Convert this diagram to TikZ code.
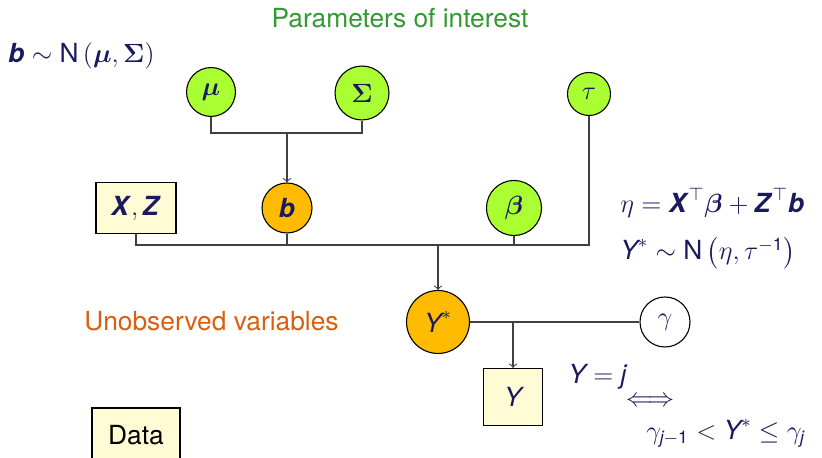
\documentclass[tikz,border=0pt]{standalone}
\usepackage{amsmath}
\usepackage{amssymb}
\usepackage{bm}
\usepackage{fontspec}
\setmainfont{TeX Gyre Heros}
\usepackage{tikz}
\usepackage{xcolor}

\definecolor{navy}{RGB}{26,26,94}
\definecolor{paramgreen}{RGB}{170,255,51}
\definecolor{latentorange}{RGB}{255,187,0}
\definecolor{datayellow}{RGB}{255,252,213}
\definecolor{titlegreen}{RGB}{51,153,51}
\definecolor{textorange}{RGB}{217,95,14}

\newcommand{\bvec}[1]{\textbf{\textit{#1}}}
\newcommand{\ivar}[1]{\textit{#1}}
\newcommand{\ystar}{\ivar{Y}^{*}}

\begin{document}
\begin{tikzpicture}[
        x=0.456pt, y=-0.456pt,
        font=\large,
        param/.style={circle, draw, line width=0.5pt, fill=paramgreen, inner sep=0pt, text=navy},
        latent/.style={circle, draw, line width=0.5pt, fill=latentorange, inner sep=0pt, text=navy},
        datum/.style={rectangle, draw, line width=0.5pt, fill=datayellow, inner sep=0pt, text=navy},
        link/.style={draw=black!75, line width=0.5pt},
        arrow/.style={link, ->, >=to}
    ]
        \useasboundingbox (0,0) rectangle (822,458);

        % Parameters of interest
        \node[param, minimum size=22.3pt] (mu) at (211,92) {$\bm{\mu}$};
        \node[param, minimum size=24.6pt] (Sigma) at (362,93) {$\bm{\Sigma}$};
        \node[param, minimum size=19.6pt] (tau) at (589,94) {$\tau$};
        \node[param, minimum size=25.1pt] (beta) at (514,208) {$\bm{\beta}$};

        % Unobserved variables
        \node[latent, minimum size=22.8pt] (b) at (287,208) {$\bvec{b}$};
        \node[latent, minimum size=28.7pt] (ystar) at (438,322) {$\ystar$};
        \node[circle, draw, line width=0.5pt, fill=white, inner sep=0pt, text=navy, minimum size=22.8pt] (gamma) at (665,322) {$\gamma$};

        % Data
        \node[datum, minimum width=36.5pt, minimum height=23.3pt] (xz) at (136,208) {$\bvec{X}, \bvec{Z}$};
        \node[datum, minimum width=26.9pt, minimum height=26pt] (y) at (513,397) {$\ivar{Y}$};
        \node[datum, text=black, minimum width=40.1pt, minimum height=24.6pt] (data) at (136,435) {Data};

        % Labels
        \node[anchor=base, text=titlegreen] (title) at (400,28) {Parameters of interest};
        \node[anchor=base west, text=navy, inner sep=0pt] (prior) at (8,63) {$\bvec{b} \sim \text{N}\left(\bm{\mu}, \bm{\Sigma}\right)$};
        \node[anchor=base west, text=navy, inner sep=0pt] (eta) at (620,213) {$\eta = \bvec{X}^{\top}\bm{\beta} + \bvec{Z}^{\top}\bvec{b}$};
        \node[anchor=base west, text=navy, inner sep=0pt] (lik) at (620,260) {$\ystar \sim \text{N}\left(\eta, \tau^{-\text{1}}\right)$};
        \node[anchor=base west, text=textorange, inner sep=0pt] (unobs) at (84,331) {Unobserved variables};
        \node[anchor=base west, text=navy, inner sep=0pt] (yj) at (568,384) {$\ivar{Y} = \ivar{j}$};
        \node[text=navy, inner sep=0pt] (iff) at (650,402) {$\Longleftrightarrow$};
        \node[anchor=base west, text=navy, inner sep=0pt] (cut) at (646,440) {$\gamma_{\ivar{j}-\text{1}} < \ystar \leq \gamma_{\ivar{j}}$};

        % Connectors
        \coordinate (jpar) at (287,133);
        \draw[link] (mu) |- (jpar);
        \draw[link] (Sigma) |- (jpar);
        \draw[arrow] (jpar) -- (b);

        \coordinate (jlin) at (438,245);
        \draw[link] (xz) |- (jlin);
        \draw[link] (b) |- (jlin);
        \draw[link] (beta) |- (jlin);
        \draw[link] (tau) |- (jlin);
        \draw[arrow] (jlin) -- (ystar);

        \draw[link] (ystar) -- (gamma);
        \coordinate (jobs) at (y |- ystar);
        \draw[arrow] (jobs) -- (y);
    \end{tikzpicture}
\end{document}
